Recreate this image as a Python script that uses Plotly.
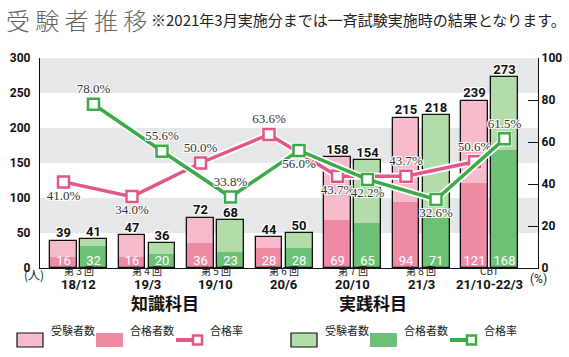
import plotly.graph_objects as go

# ---------------- data ----------------
rounds = ["第 3 回", "第 4 回", "第 5 回", "第 6 回", "第 7 回", "第 8 回", "CBT"]
periods = ["18/12", "19/3", "19/10", "20/6", "20/10", "21/3", "21/10-22/3"]

know_exam = [39, 47, 72, 44, 158, 215, 239]   # 知識科目 受験者数
know_pass = [16, 16, 36, 28, 69, 94, 121]     # 知識科目 合格者数
know_rate = [41.0, 34.0, 50.0, 63.6, 43.7, 43.7, 50.6]

prac_exam = [41, 36, 68, 50, 154, 218, 273]   # 実践科目 受験者数
prac_pass = [32, 20, 23, 28, 65, 71, 168]     # 実践科目 合格者数
prac_rate = [78.0, 55.6, 33.8, 56.0, 42.2, 32.6, 61.5]

know_rate_pos = ["bottom center", "bottom center", "top center", "top center",
                 "bottom center", "top center", "top center"]
prac_rate_pos = ["top center", "top center", "top center", "bottom center",
                 "bottom center", "bottom center", "top center"]

# ---------------- style ----------------
PINK_L, PINK_D, PINK_LINE = "#f6bccb", "#ef8aa5", "#e6558a"
GRN_L, GRN_D, GRN_LINE = "#b4dcaa", "#6dc177", "#3daa48"
BAND = "#e6e7e8"
NUM_FONT = "Roboto"
HALO = "white 1px 1px 0px, white -1px -1px 0px, white 1px -1px 0px, white -1px 1px 0px, white 0px 1px 0px, white 0px -1px 0px, white 1px 0px 0px, white -1px 0px 0px"

W, H = 569, 357
L, R, T, B = 40, 538, 58, 268
OFF = 0.219
BW = 0.394

idx = list(range(len(rounds)))
xk = [i - OFF for i in idx]
xp = [i + OFF for i in idx]


def px(x):
    return (x - L) / (R - L)


def py(y):
    return (B - y) / (B - T)


fig = go.Figure()

for xs, exam, pas, cl, cd in [(xk, know_exam, know_pass, PINK_L, PINK_D),
                              (xp, prac_exam, prac_pass, GRN_L, GRN_D)]:
    fig.add_trace(go.Bar(x=xs, y=exam, width=BW, marker=dict(color=cl, line=dict(width=0)),
                         hoverinfo="skip", showlegend=False))
    fig.add_trace(go.Bar(x=xs, y=pas, width=BW, marker=dict(color=cd, line=dict(width=0)),
                         hoverinfo="skip", showlegend=False))
    fig.add_trace(go.Bar(x=xs, y=exam, width=BW,
                         marker=dict(color="rgba(0,0,0,0)", line=dict(width=1.3, color="#111")),
                         hoverinfo="skip", showlegend=False))
    # totals above the bars
    fig.add_trace(go.Scatter(x=xs, y=exam, mode="text", text=[str(v) for v in exam],
                             textposition="top center",
                             textfont=dict(family=NUM_FONT, size=13, color="#111", weight="bold", shadow=HALO),
                             hoverinfo="skip", showlegend=False, cliponaxis=False))
    # passers inside bottom of bars
    fig.add_trace(go.Scatter(x=xs, y=[0] * len(xs), mode="text", text=[str(v) for v in pas],
                             textposition="top center",
                             textfont=dict(family=NUM_FONT, size=13, color="white"),
                             hoverinfo="skip", showlegend=False, cliponaxis=False))

# pass-rate lines
for xs, rate, col, pos in [(xk, know_rate, PINK_LINE, know_rate_pos),
                           (xp, prac_rate, GRN_LINE, prac_rate_pos)]:
    fig.add_trace(go.Scatter(x=xs, y=rate, yaxis="y2", mode="lines+markers",
                             line=dict(color="white", width=7),
                             marker=dict(symbol="square", size=15, color="white", line=dict(width=0)),
                             hoverinfo="skip", showlegend=False, cliponaxis=False))
    fig.add_trace(go.Scatter(x=xs, y=rate, yaxis="y2", mode="lines+markers+text",
                             line=dict(color=col, width=3.5),
                             marker=dict(symbol="square", size=11, color="white", line=dict(width=2.5, color=col)),
                             text=[f"{v:.1f}%" for v in rate], textposition=pos,
                             textfont=dict(family="Liberation Serif", size=13, color="#333", shadow=HALO),
                             hoverinfo="skip", showlegend=False, cliponaxis=False))

# background bands
shapes = []
for y0 in (50, 150, 250):
    shapes.append(dict(type="rect", xref="paper", yref="y", x0=0, x1=1, y0=y0, y1=y0 + 50,
                       fillcolor=BAND, line=dict(width=0), layer="below"))

annotations = []
# title & note
annotations.append(dict(text="受 験 者 推 移", x=px(4), y=py(19), xref="paper", yref="paper",
                        xanchor="left", yanchor="middle", showarrow=False,
                        font=dict(family="Noto Sans CJK JP", size=24, color="#666", weight=300)))
annotations.append(dict(text="※2021年3月実施分までは一斉試験実施時の結果となります。", x=px(149), y=py(20),
                        xref="paper", yref="paper", xanchor="left", yanchor="middle", showarrow=False,
                        font=dict(family="Noto Sans CJK JP", size=15, color="#222")))
# unit labels
annotations.append(dict(text="(人)", x=px(22), y=py(285), xref="paper", yref="paper", showarrow=False,
                        font=dict(family="Noto Sans CJK JP", size=12, color="#222")))
annotations.append(dict(text="(%)", x=px(549), y=py(288), xref="paper", yref="paper", showarrow=False,
                        font=dict(family=NUM_FONT, size=12, color="#222")))
# x labels (two lines)
for i in idx:
    annotations.append(dict(text=rounds[i], x=i, y=py(280), xref="x", yref="paper", showarrow=False,
                            font=dict(family="Noto Sans CJK JP", size=10, color="#222")))
    annotations.append(dict(text="<b>" + periods[i] + "</b>", x=i, y=py(294), xref="x", yref="paper",
                            showarrow=False, font=dict(family=NUM_FONT, size=13, color="#111")))

# custom legend
for cx, title, cl, cd, cline, sx in [(129, "知識科目", PINK_L, PINK_D, PINK_LINE, 17),
                                      (409, "実践科目", GRN_L, GRN_D, GRN_LINE, 291)]:
    annotations.append(dict(text="<b>" + title + "</b>", x=px(cx), y=py(317), xref="paper", yref="paper",
                            showarrow=False, font=dict(family="Noto Sans CJK JP", size=17, color="#111")))
    shapes.append(dict(type="rect", xref="paper", yref="paper", x0=px(sx), x1=px(sx + 26),
                       y0=py(347), y1=py(333), fillcolor=cl, line=dict(color="#111", width=1.2)))
    annotations.append(dict(text="受験者数", x=px(sx + 32), y=py(340), xref="paper", yref="paper",
                            xanchor="left", showarrow=False,
                            font=dict(family="Noto Sans CJK JP", size=11, color="#222")))
    shapes.append(dict(type="rect", xref="paper", yref="paper", x0=px(sx + 79), x1=px(sx + 106),
                       y0=py(347), y1=py(333), fillcolor=cd, line=dict(width=0)))
    annotations.append(dict(text="合格者数", x=px(sx + 111), y=py(340), xref="paper", yref="paper",
                            xanchor="left", showarrow=False,
                            font=dict(family="Noto Sans CJK JP", size=11, color="#222")))
    shapes.append(dict(type="line", xref="paper", yref="paper", x0=px(sx + 159), x1=px(sx + 180),
                       y0=py(340), y1=py(340), line=dict(color=cline, width=4)))
    shapes.append(dict(type="rect", xref="paper", yref="paper", x0=px(sx + 176), x1=px(sx + 185),
                       y0=py(344.5), y1=py(335.5), fillcolor="white", line=dict(color=cline, width=2.5)))
    annotations.append(dict(text="合格率", x=px(sx + 191), y=py(340), xref="paper", yref="paper",
                            xanchor="left", showarrow=False,
                            font=dict(family="Noto Sans CJK JP", size=11, color="#222")))

fig.update_layout(
    width=W, height=H, autosize=False,
    margin=dict(l=L, r=W - R, t=T, b=H - B, pad=0, autoexpand=False),
    paper_bgcolor="white", plot_bgcolor="white",
    barmode="overlay", bargap=0,
    showlegend=False,
    shapes=shapes, annotations=annotations,
    xaxis=dict(range=[-0.562, 6.708], showticklabels=False, ticks="", showgrid=False,
               zeroline=False, showline=True, linecolor="#111", linewidth=1.3, fixedrange=True),
    yaxis=dict(range=[0, 300], dtick=50, showgrid=False, zeroline=False, showline=True,
               linecolor="#111", linewidth=1.3, ticks="", ticklabelstandoff=6,
               tickfont=dict(family=NUM_FONT, size=12, color="#111", weight="bold")),
    yaxis2=dict(range=[0, 100], dtick=20, overlaying="y", side="right", showgrid=False,
                zeroline=False, showline=True, linecolor="#111", linewidth=1.3,
                ticks="inside", ticklen=10, tickcolor="#111", tickwidth=1.3,
                tickfont=dict(family=NUM_FONT, size=12, color="#111", weight="bold")),
)

fig.write_html("out.html", config={"responsive": False, "displayModeBar": False},
               post_script="document.body.style.margin='0px';document.body.style.overflow='hidden';")
